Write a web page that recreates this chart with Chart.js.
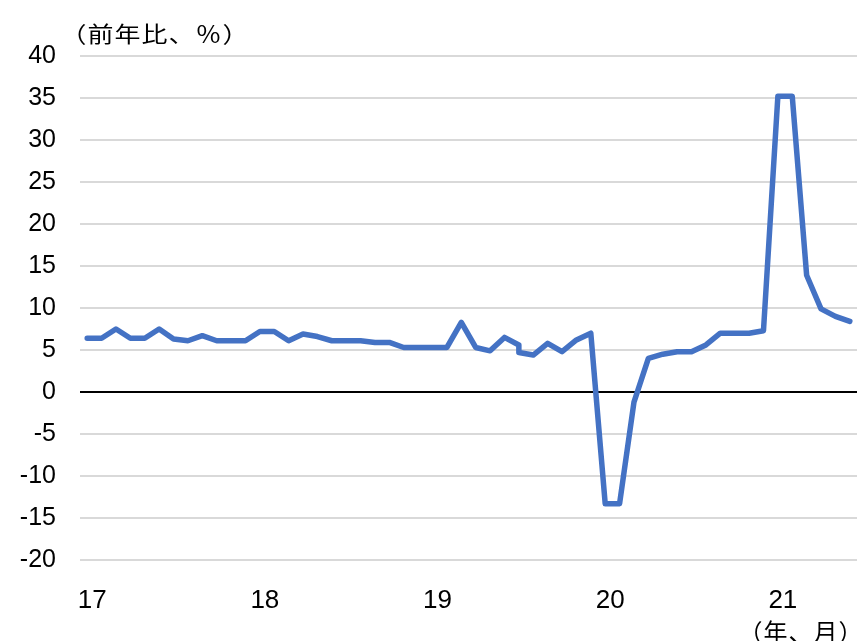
<!DOCTYPE html>
<html lang="ja">
<head>
<meta charset="utf-8">
<script src="https://cdn.jsdelivr.net/npm/chart.js@4/dist/chart.umd.min.js"></script>
<style>
  html, body { margin: 0; padding: 0; background: #ffffff; }
  #wrap { width: 862px; height: 641px; }
</style>
</head>
<body>
<div id="wrap"><canvas id="c" width="862" height="641"></canvas></div>
<script>
// Monthly categories, 2017/01 - 2021/06
const months = [
  '2017/01','2017/02','2017/03','2017/04','2017/05','2017/06','2017/07','2017/08','2017/09','2017/10','2017/11','2017/12',
  '2018/01','2018/02','2018/03','2018/04','2018/05','2018/06','2018/07','2018/08','2018/09','2018/10','2018/11','2018/12',
  '2019/01','2019/02','2019/03','2019/04','2019/05','2019/06','2019/07','2019/08','2019/09','2019/10','2019/11','2019/12',
  '2020/01','2020/02','2020/03','2020/04','2020/05','2020/06','2020/07','2020/08','2020/09','2020/10','2020/11','2020/12',
  '2021/01','2021/02','2021/03','2021/04','2021/05','2021/06'
];

// Year-on-year change (%), old basis: 2017/01 - 2019/07
const seriesOld = [
  6.4, 6.4, 7.5, 6.4, 6.4, 7.5, 6.3, 6.1, 6.7, 6.1, 6.1, 6.1,
  7.2, 7.2, 6.1, 6.9, 6.6, 6.1, 6.1, 6.1, 5.9, 5.9, 5.3, 5.3,
  5.3, 5.3, 8.3, 5.3, 4.9, 6.5, 5.6
];

// Year-on-year change (%), new basis: 2019/07 - 2021/06
const newStart = '2019/07';
const seriesNew = [
  4.7, 4.4, 5.8, 4.8, 6.2, 7.0,
  -13.3, -13.3, -1.2, 4.0, 4.5, 4.8, 4.8, 5.6, 7.0, 7.0, 7.0, 7.3,
  35.2, 35.2, 13.9, 9.9, 9.0, 8.4
];

// Axis labels
const yearLabels = { '2017': '17', '2018': '18', '2019': '19', '2020': '20', '2021': '21' };
const yTitle = '（前年比、％）';
const xTitle = '（年、月）';

// One continuous path: the old basis, then the new basis from its start month
const startIdx = months.indexOf(newStart);
const points = seriesOld.map((v, i) => ({ x: months[i], y: v }))
  .concat(seriesNew.map((v, i) => ({ x: months[startIdx + i], y: v })));

// Full-width text set on a fixed grid, one cell per character (optionally widened)
function drawFullWidth(ctx, text, left, midY, cell, hScale) {
  [...text].forEach((ch, i) => {
    ctx.save();
    ctx.translate(left + cell * i + cell / 2, midY);
    ctx.scale(hScale, 1);
    ctx.fillText(ch, 0, 0);
    ctx.restore();
  });
}

const unitLabels = {
  id: 'unitLabels',
  afterDraw(chart) {
    const { ctx, chartArea } = chart;
    ctx.save();
    ctx.fillStyle = '#000000';
    ctx.textBaseline = 'middle';
    ctx.textAlign = 'center';
    ctx.font = '22px "Noto Sans CJK JP", sans-serif';
    drawFullWidth(ctx, yTitle, chartArea.left - 20, chartArea.top - 22, 27, 1.18);
    ctx.font = '24px "Noto Sans CJK JP", sans-serif';
    drawFullWidth(ctx, xTitle, chartArea.right - 119, chartArea.bottom + 72, 25, 1.0);
    ctx.restore();
  }
};

new Chart(document.getElementById('c'), {
  type: 'line',
  data: {
    labels: months,
    datasets: [{
      data: points,
      borderColor: '#4472C4',
      borderWidth: 5.5,
      borderJoinStyle: 'round',
      borderCapStyle: 'round',
      pointRadius: 0,
      pointHoverRadius: 0,
      tension: 0,
      fill: false
    }]
  },
  options: {
    responsive: false,
    animation: false,
    events: [],
    layout: { padding: { top: 56, right: 5, left: 0, bottom: 0 } },
    plugins: {
      legend: { display: false },
      tooltip: { enabled: false },
      title: { display: false }
    },
    scales: {
      x: {
        type: 'category',
        offset: true,
        grid: { display: false },
        border: { display: false },
        afterFit(scale) { scale.height = 81; },
        ticks: {
          autoSkip: false,
          maxRotation: 0,
          padding: 17,
          labelOffset: 5,
          color: '#000000',
          font: { family: '"Liberation Sans", Arial, sans-serif', size: 26 },
          callback(value) {
            const lab = this.getLabelForValue(value);
            const [y, m] = lab.split('/');
            return m === '01' ? yearLabels[y] : null;
          }
        }
      },
      y: {
        min: -20,
        max: 40,
        afterFit(scale) { scale.width = 80; },
        border: { display: false },
        grid: {
          drawTicks: false,
          lineWidth: 2,
          color: (c) => (c.tick && c.tick.value === 0 ? '#000000' : '#d9d9d9')
        },
        ticks: {
          stepSize: 5,
          padding: 24,
          color: '#000000',
          font: { family: '"Liberation Sans", Arial, sans-serif', size: 25 }
        }
      }
    }
  },
  plugins: [unitLabels]
});
</script>
</body>
</html>
